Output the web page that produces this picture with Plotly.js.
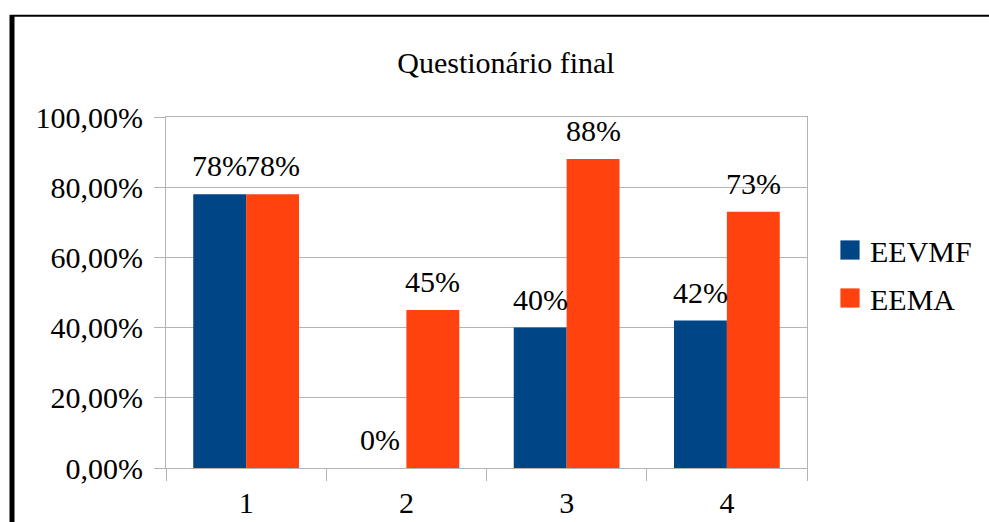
<!DOCTYPE html>
<html>
<head>
<meta charset="utf-8">
<script src="https://cdn.plot.ly/plotly-3.0.1.min.js"></script>
<style>html,body{margin:0;padding:0;background:#fff}#chart{width:989px;height:522px}</style>
</head>
<body>
<div id="chart"></div>
<script>
const categories = ['1', '2', '3', '4'];
const eevmf = [0.78, 0.00, 0.40, 0.42];
const eema = [0.78, 0.45, 0.88, 0.73];
const seriesNames = ['EEVMF', 'EEMA'];
const yTicks = [0, 0.2, 0.4, 0.6, 0.8, 1.0];

const FONT = 'Liberation Serif';
const W = 989, H = 522;
const L = 166, R = 807, T = 117, B = 468;
const px2x = p => (p - L) / (R - L);
const px2y = p => (B - p) / (B - T);
const BARGAP = 0.34;
const halfBar = ((R - L) / categories.length) * (1 - BARGAP) / 4;

const common = {
  type: 'bar',
  x: categories,
  cliponaxis: false,
  hoverinfo: 'skip'
};

const data = [
  Object.assign({}, common, {y: eevmf, name: seriesNames[0], marker: {color: '#004586'}, legendgroup: 'a'}),
  Object.assign({}, common, {y: eema, name: seriesNames[1], marker: {color: '#ff420e'}, legendgroup: 'b'})
];

const annotations = [];
[eevmf, eema].forEach(function (vals, si) {
  vals.forEach(function (v, i) {
    annotations.push({
      x: i, y: v, xref: 'x', yref: 'y',
      text: Math.round(v * 100) + '%',
      showarrow: false,
      xanchor: 'center', yanchor: 'bottom',
      xshift: si === 0 ? -halfBar : halfBar,
      yshift: 10,
      font: {family: FONT, size: 30, color: '#000'}
    });
  });
});

const layout = {
  width: W, height: H,
  margin: {l: L, r: W - R, t: T, b: H - B, pad: 0},
  paper_bgcolor: '#fff', plot_bgcolor: '#fff',
  separators: ',.',
  font: {family: FONT, size: 30, color: '#000'},
  title: {
    text: 'Questionário final',
    font: {family: FONT, size: 30, color: '#000'},
    xref: 'container', x: 506 / W, xanchor: 'center',
    yref: 'container', y: 1 - 62 / H, yanchor: 'middle'
  },
  barmode: 'group',
  bargap: BARGAP,
  bargroupgap: 0,
  xaxis: {
    type: 'category',
    range: [-0.5, categories.length - 0.5],
    showgrid: false,
    showline: true, mirror: true, linecolor: '#b3b3b3', linewidth: 1,
    ticks: 'outside', tickson: 'boundaries', ticklen: 12, tickcolor: '#b3b3b3',
    ticklabelstandoff: 8,
    tickfont: {family: FONT, size: 30, color: '#000'},
    zeroline: false
  },
  yaxis: {
    range: [0, 1],
    tickvals: yTicks,
    tickformat: '.2%',
    showgrid: true, gridcolor: '#b3b3b3', gridwidth: 1,
    showline: true, mirror: true, linecolor: '#b3b3b3', linewidth: 1,
    ticks: 'outside', ticklen: 11, tickcolor: '#b3b3b3',
    ticklabelstandoff: 5,
    tickfont: {family: FONT, size: 30, color: '#000'},
    zeroline: false
  },
  showlegend: true,
  legend: {
    x: px2x(830), xanchor: 'left',
    y: px2y(274), yanchor: 'middle',
    font: {family: FONT, size: 30, color: '#000'},
    traceorder: 'grouped',
    tracegroupgap: 6,
    bgcolor: 'rgba(0,0,0,0)'
  },
  annotations: annotations,
  shapes: [
    {type: 'line', xref: 'paper', yref: 'paper', x0: px2x(12), x1: px2x(12), y0: px2y(15), y1: px2y(530), line: {color: '#000', width: 5}},
    {type: 'line', xref: 'paper', yref: 'paper', x0: px2x(10), x1: px2x(995), y0: px2y(15.8), y1: px2y(15.8), line: {color: '#000', width: 2}}
  ]
};

Plotly.newPlot('chart', data, layout, {displayModeBar: false, staticPlot: true}).then(function () {
  document.querySelectorAll('.legendpoints path').forEach(function (p) {
    const t = p.getAttribute('transform') || '';
    p.setAttribute('transform', t + ' scale(1.6)');
  });
});
</script>
</body>
</html>
